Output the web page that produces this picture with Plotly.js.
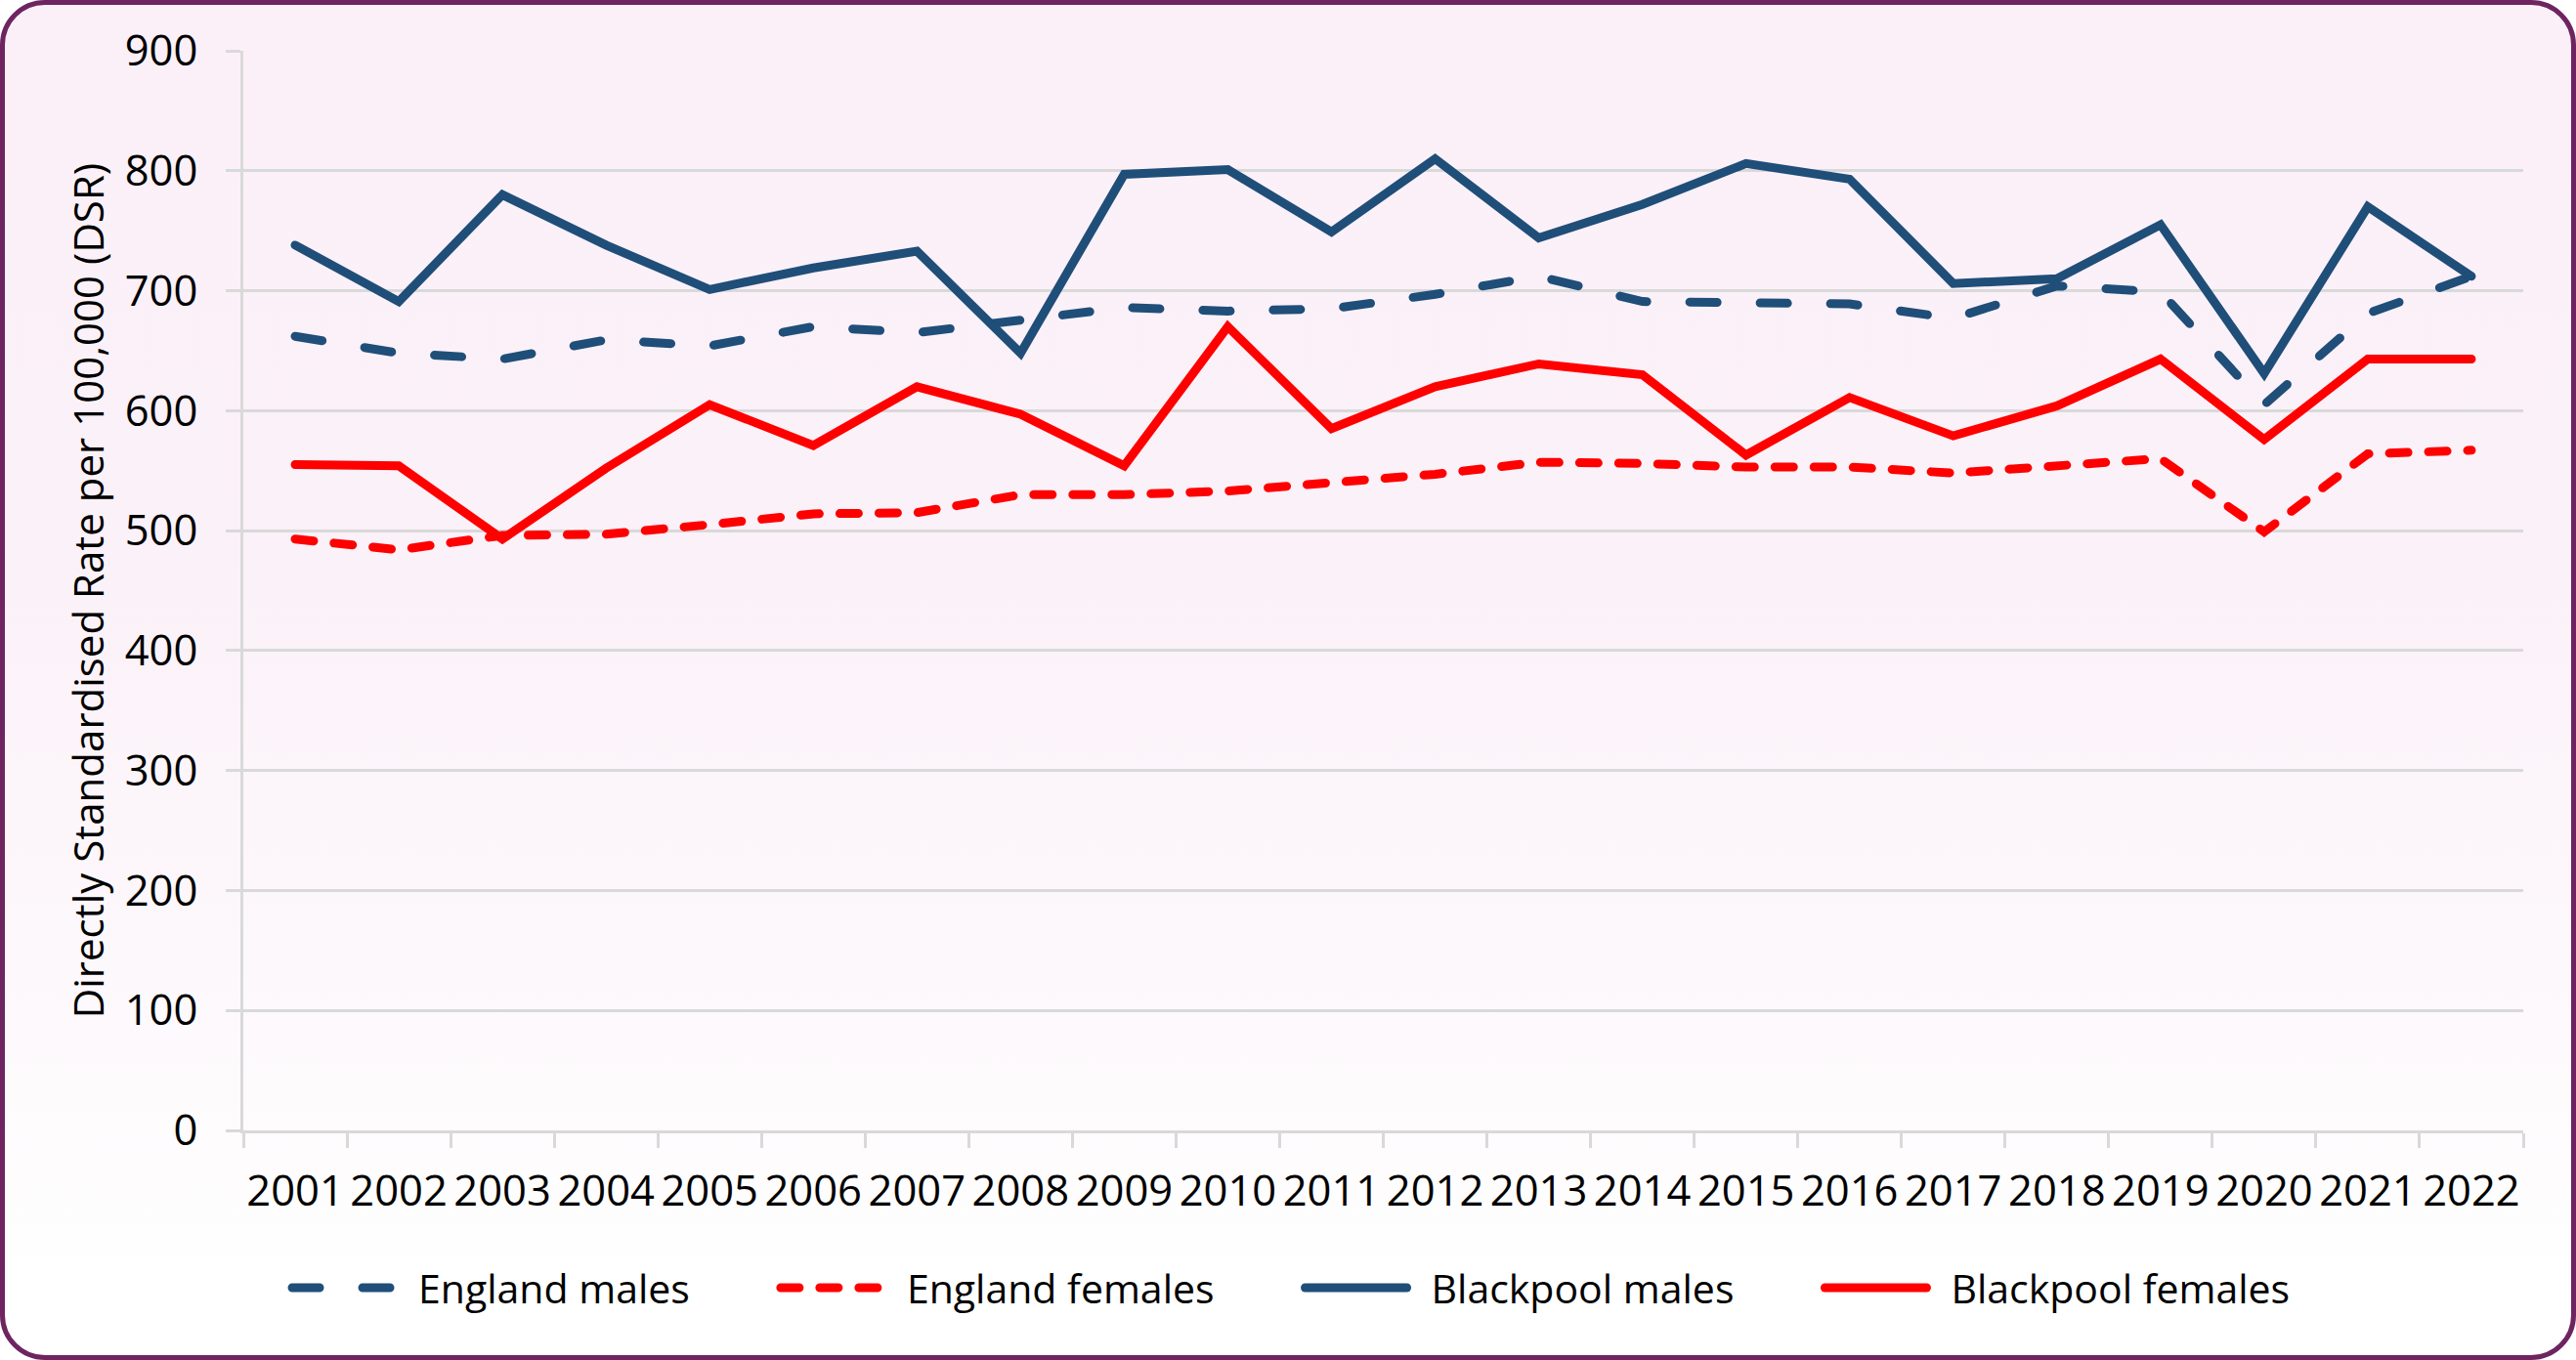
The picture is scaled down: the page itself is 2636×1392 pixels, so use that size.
<!DOCTYPE html>
<html>
<head>
<meta charset="utf-8">
<script src="https://cdn.plot.ly/plotly-3.0.1.min.js"></script>
<style>
  html, body { margin: 0; padding: 0; background: #ffffff; }
  #frame {
    position: absolute; left: 0; top: 0;
    width: 2636px; height: 1392px;
    box-sizing: border-box;
    border: 5px solid #6E2461;
    border-radius: 46px;
    background: linear-gradient(to bottom, #FBF0F8 0%, #FBF1F8 40%, #FDF9FC 75%, #FFFFFF 95%);
  }
  #chart { position: absolute; left: 0; top: 0; width: 2636px; height: 1392px; }
  #chart .js-line { stroke-linecap: round; }
</style>
</head>
<body>
<div id="frame"></div>
<div id="chart"></div>
<script>
// Years on the category axis
const years = ['2001','2002','2003','2004','2005','2006','2007','2008','2009','2010','2011',
               '2012','2013','2014','2015','2016','2017','2018','2019','2020','2021','2022'];

// Directly standardised rates per 100,000
const englandMales     = [662,648,643,659,654,670,665,676,686,683,685,697,712,691,690,689,677,704,699,605,681,712];
const englandFemales   = [493,484,496,497,505,514,515,530,530,533,540,547,557,556,553,553,548,554,560,499,564,567];
const blackpoolMales   = [738,691,780,738,701,719,733,648,797,801,749,810,744,772,806,793,706,710,755,631,770,712];
const blackpoolFemales = [555,554,493,552,605,571,620,597,554,670,585,620,639,630,563,611,579,604,643,576,643,643];

const seriesNames = ['England males', 'England females', 'Blackpool males', 'Blackpool females'];

const BLUE = '#1F4E79';
const RED = '#FF0000';
const FONT = '"Open Sans", "Noto Sans", sans-serif';
const TICK_SIZE = 43.5;
const LINE_W = 9;

const traces = [
  { x: years, y: englandMales, name: seriesNames[0], type: 'scatter', mode: 'lines',
    line: { color: BLUE, width: LINE_W, dash: '28px,44px' } },
  { x: years, y: englandFemales, name: seriesNames[1], type: 'scatter', mode: 'lines',
    line: { color: RED, width: LINE_W, dash: '19px,21px' } },
  { x: years, y: blackpoolMales, name: seriesNames[2], type: 'scatter', mode: 'lines',
    line: { color: BLUE, width: LINE_W } },
  { x: years, y: blackpoolFemales, name: seriesNames[3], type: 'scatter', mode: 'lines',
    line: { color: RED, width: LINE_W } }
];

const layout = {
  width: 2636, height: 1392,
  margin: { l: 249, r: 54, t: 52, b: 235 },
  paper_bgcolor: 'rgba(0,0,0,0)',
  plot_bgcolor: 'rgba(0,0,0,0)',
  font: { family: FONT, size: TICK_SIZE, color: '#000000' },
  showlegend: true,
  legend: {
    orientation: 'h',
    x: 0.0193, xanchor: 'left',
    y: -0.146, yanchor: 'middle',
    itemwidth: 104,
    font: { family: FONT, size: 41, color: '#000000' },
    bgcolor: 'rgba(0,0,0,0)'
  },
  xaxis: {
    type: 'category',
    range: [-0.5, 21.5],
    showgrid: false,
    showline: true, linecolor: '#D9D9D9', linewidth: 3,
    ticks: 'outside', tickson: 'boundaries', ticklen: 15, tickwidth: 3, tickcolor: '#D9D9D9',
    ticklabelstandoff: 22,
    tickfont: { family: FONT, size: TICK_SIZE, color: '#000000' },
    tickangle: 0,
    fixedrange: true
  },
  yaxis: {
    range: [0, 900],
    dtick: 100,
    showgrid: true, gridcolor: '#D9D9D9', gridwidth: 3,
    zeroline: false,
    showline: true, linecolor: '#D9D9D9', linewidth: 3,
    ticks: 'outside', ticklen: 15, tickwidth: 3, tickcolor: '#D9D9D9',
    ticklabelstandoff: 20,
    tickfont: { family: FONT, size: TICK_SIZE, color: '#000000' },
    title: { text: 'Directly Standardised Rate per 100,000 (DSR)',
             font: { family: FONT, size: 42, color: '#000000' }, standoff: 8 },
    fixedrange: true
  }
};

// Legend entries: longer gap between sample and label, and between entries
const TEXT_X = 134;      // label start, relative to the entry origin
const ENTRY_GAP = 88;    // space after each label before the next entry

Plotly.newPlot('chart', traces, layout, { displayModeBar: false, staticPlot: true }).then(gd => {
  const legend = gd.querySelector('.legend');
  if (!legend) return;
  const box = legend.querySelector('.scrollbox');
  if (box) box.removeAttribute('clip-path');
  const items = legend.querySelectorAll('.traces');
  let x = null;
  items.forEach(g => {
    const m = /translate\(\s*([-\d.e]+)[ ,]+([-\d.e]+)\s*\)/.exec(g.getAttribute('transform') || '');
    const gx = m ? parseFloat(m[1]) : 0;
    const gy = m ? parseFloat(m[2]) : 0;
    if (x === null) x = gx;
    g.setAttribute('transform', 'translate(' + x + ',' + gy + ')');
    const t = g.querySelector('.legendtext');
    t.setAttribute('x', TEXT_X);
    x += TEXT_X + t.getComputedTextLength() + ENTRY_GAP;
  });
});
</script>
</body>
</html>
